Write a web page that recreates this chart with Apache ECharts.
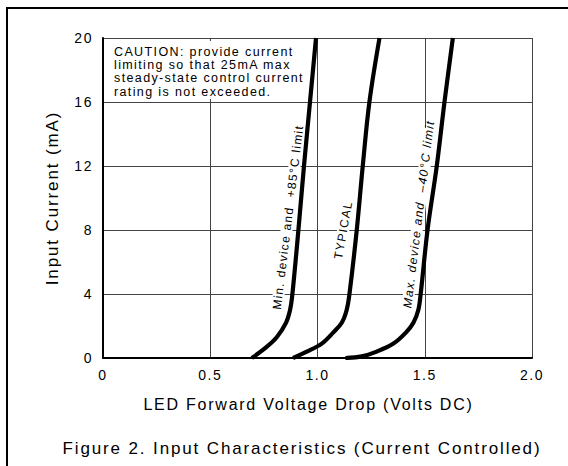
<!DOCTYPE html>
<html>
<head>
<meta charset="utf-8">
<script src="https://cdn.jsdelivr.net/npm/echarts@6/dist/echarts.min.js"></script>
<style>
html,body{margin:0;padding:0;background:#fff}
#c{width:568px;height:466px}
#c text{letter-spacing:0.11em}
</style>
</head>
<body>
<div id="c"></div>
<script>
// Data
var xTickLabels = ["0", "0.5", "1.0", "1.5", "2.0"];
var yTickLabels = ["0", "4", "8", "12", "16", "20"];

var minDevX = [0.694, 0.763, 0.81, 0.853, 0.872, 0.883, 0.911, 0.937, 0.965, 0.993];
var minDevY = [0, 0.7, 1.3, 2.2, 3, 4, 8, 12, 16, 20];

var typicalX = [0.886, 0.95, 1.02, 1.074, 1.113, 1.136, 1.149, 1.183, 1.211, 1.242, 1.289];
var typicalY = [0, 0.4, 0.9, 1.6, 2.2, 3, 4, 8, 12, 16, 20];

var maxDevX = [1.13, 1.206, 1.276, 1.354, 1.413, 1.447, 1.47, 1.481, 1.513, 1.556, 1.592, 1.631];
var maxDevY = [0, 0.1, 0.4, 0.9, 1.6, 2.2, 3, 4, 8, 12, 16, 20];

var curveLabels = [
  {text: "Min. device and  +85°C limit", x: 0.863, y: 8.8, angle: 83, italic: false},
  {text: "TYPICAL", x: 1.12, y: 8.0, angle: 80, italic: false},
  {text: "Max. device and  \u201340°C limit", x: 1.472, y: 9.0, angle: 83, italic: true}
];

var cautionLines = "CAUTION: provide current\nlimiting so that 25mA max\nsteady-state control current\nrating is not exceeded.";
var xName = "LED Forward Voltage Drop (Volts DC)";
var yName = "Input Current (mA)";
var figTitle = "Figure 2. Input Characteristics (Current Controlled)";

function pairs(xs, ys) { return xs.map(function (v, i) { return [v, ys[i]]; }); }

var FONT = "Liberation Sans, Arial, Helvetica, sans-serif";
var chart = echarts.init(document.getElementById('c'), null, {renderer: 'svg'});

function lineSeries(name, xs, ys) {
  return {
    name: name, type: 'line', data: pairs(xs, ys), smooth: 0.35, symbol: 'none',
    lineStyle: {color: '#000', width: 4.2}, z: 5, silent: true
  };
}

chart.setOption({
  animation: false,
  backgroundColor: '#fff',
  grid: {left: 103, top: 38, right: 36, bottom: 108},
  xAxis: {
    type: 'value', min: 0, max: 2, interval: 0.5,
    name: xName, nameLocation: 'middle', nameGap: 38,
    nameTextStyle: {fontFamily: FONT, fontSize: 16, color: '#000', padding: [0, 18, 0, 0]},
    axisLine: {show: true, lineStyle: {color: '#000', width: 2}},
    axisTick: {show: false},
    axisLabel: {margin: 10, fontFamily: FONT, fontSize: 14, color: '#000',
      formatter: function (v) { return xTickLabels[Math.round(v / 0.5)]; }},
    splitLine: {show: true, lineStyle: {color: '#444', width: 1}}
  },
  yAxis: {
    type: 'value', min: 0, max: 20, interval: 4,
    name: yName, nameLocation: 'middle', nameGap: 42, nameRotate: 90,
    nameTextStyle: {fontFamily: FONT, fontSize: 17, color: '#000'},
    axisLine: {show: true, lineStyle: {color: '#000', width: 2}},
    axisTick: {show: false},
    axisLabel: {margin: 10, fontFamily: FONT, fontSize: 14, color: '#000',
      formatter: function (v) { return yTickLabels[Math.round(v / 4)]; }},
    splitLine: {show: true, lineStyle: {color: '#444', width: 1}}
  },
  series: [
    lineSeries('min', minDevX, minDevY),
    lineSeries('typical', typicalX, typicalY),
    lineSeries('max', maxDevX, maxDevY)
  ]
});

var g = [
  {type: 'polyline', shape: {points: [[7, 466], [7, 8], [568, 8]]},
   style: {stroke: '#000', lineWidth: 2, fill: null}, z: 10},
  {type: 'rect', shape: {x: 106, y: 41, width: 184, height: 58}, style: {fill: '#fff'}, z: 7},
  {type: 'text', x: 114, y: 45, z: 8,
   style: {text: cautionLines, fontFamily: FONT, fontSize: 12.5, lineHeight: 13.3, fill: '#000'}},
  {type: 'text', x: 302, y: 448, z: 8,
   style: {text: figTitle, fontFamily: FONT, fontSize: 17, fill: '#000', align: 'center', verticalAlign: 'middle'}}
];
curveLabels.forEach(function (l) {
  var p = chart.convertToPixel({gridIndex: 0}, [l.x, l.y]);
  g.push({type: 'text', x: p[0], y: p[1], rotation: l.angle * Math.PI / 180, z: 7,
    style: {text: l.text, fontFamily: FONT, fontSize: 12, fontStyle: l.italic ? 'italic' : 'normal',
      fill: '#000', align: 'center', verticalAlign: 'middle', backgroundColor: '#fff', padding: [0, 10]}});
});
chart.setOption({graphic: g});
</script>
</body>
</html>
